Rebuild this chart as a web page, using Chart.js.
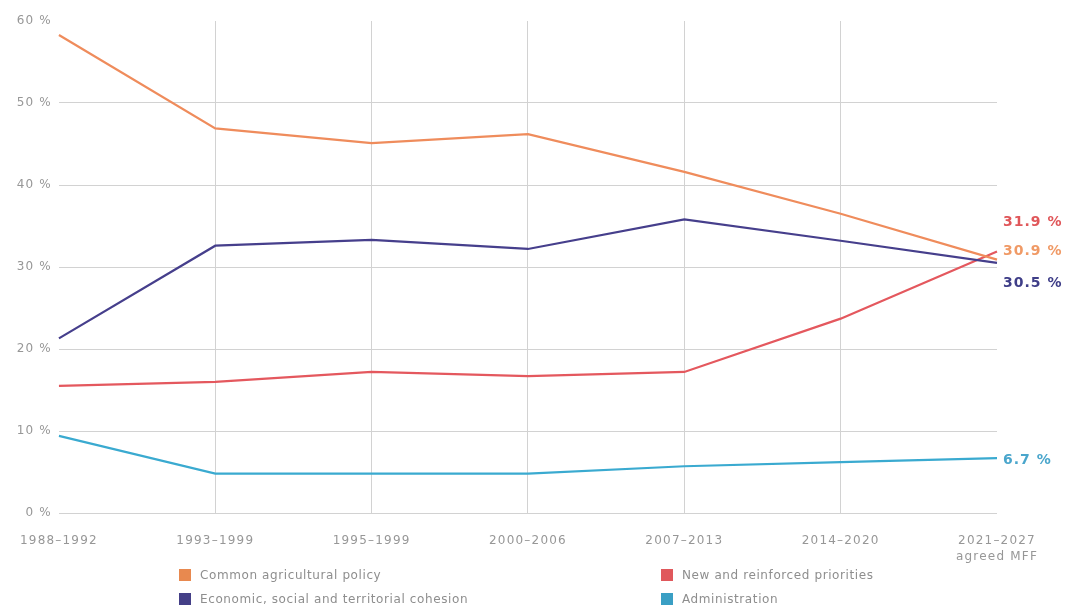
<!DOCTYPE html>
<html>
<head>
<meta charset="utf-8">
<script src="https://cdn.jsdelivr.net/npm/chart.js@4"></script>
<style>
  html, body { margin: 0; padding: 0; background: #fff; }
  #wrap { position: relative; width: 1068px; height: 610px; }
  canvas { position: absolute; left: 0; top: 0; }
  .leg { position: absolute; font-family: "DejaVu Sans", sans-serif; font-size: 12px; color: #8e8e8e; white-space: nowrap; line-height: 14px; letter-spacing: 0.6px; }
  .leg span.sw { position: absolute; left: -21px; top: 1px; width: 12px; height: 12px; }
</style>
</head>
<body>
<div id="wrap">
  <canvas id="c" width="1068" height="610"></canvas>
  <div class="leg" style="left:200px; top:568px;"><span class="sw" style="background:#e8894f"></span>Common agricultural policy</div>
  <div class="leg" style="left:200px; top:592px;"><span class="sw" style="background:#443f87"></span>Economic, social and territorial cohesion</div>
  <div class="leg" style="left:682px; top:568px;"><span class="sw" style="background:#e0585c"></span>New and reinforced priorities</div>
  <div class="leg" style="left:682px; top:592px;"><span class="sw" style="background:#3a9fc4"></span>Administration</div>
</div>
<script>
const categories = ['1988–1992', '1993–1999', '1995–1999', '2000–2006', '2007–2013', '2014–2020', ['2021–2027', 'agreed MFF']];
const capValues = [58.3, 46.9, 45.1, 46.2, 41.6, 36.5, 30.9];
const cohesionValues = [21.3, 32.6, 33.3, 32.2, 35.8, 33.2, 30.5];
const priorityValues = [15.5, 16.0, 17.2, 16.7, 17.2, 23.7, 31.9];
const adminValues = [9.4, 4.8, 4.8, 4.8, 5.7, 6.2, 6.7];
const yTicks = [0, 10, 20, 30, 40, 50, 60];
const endLabels = ['31.9 %', '30.9 %', '30.5 %', '6.7 %'];

const spacingPlugin = {
  id: 'spacing',
  beforeUpdate(chart) { chart.ctx.letterSpacing = '1.2px'; },
  beforeDraw(chart) { chart.ctx.letterSpacing = '1.2px'; }
};

const endLabelPlugin = {
  id: 'endLabels',
  afterDatasetsDraw(chart) {
    const ctx = chart.ctx;
    const y = chart.scales.y;
    const specs = [
      { text: endLabels[0], val: priorityValues[6], dy: -29, color: '#e0575a' },
      { text: endLabels[1], val: capValues[6], dy: -8, color: '#f09a66' },
      { text: endLabels[2], val: cohesionValues[6], dy: 20, color: '#3f3e88' },
      { text: endLabels[3], val: adminValues[6], dy: 2, color: '#4aa6cc' }
    ];
    ctx.save();
    ctx.letterSpacing = '1px';
    ctx.font = 'bold 14px "DejaVu Sans", sans-serif';
    ctx.textBaseline = 'middle';
    ctx.textAlign = 'left';
    specs.forEach(s => {
      ctx.fillStyle = s.color;
      ctx.fillText(s.text, chart.chartArea.right + 6, y.getPixelForValue(s.val) + s.dy);
    });
    ctx.restore();
  }
};

const mk = (label, data, color) => ({
  label, data, borderColor: color, backgroundColor: color,
  borderWidth: 2.2, pointRadius: 0, tension: 0, fill: false
});

new Chart(document.getElementById('c'), {
  type: 'line',
  data: {
    labels: categories,
    datasets: [
      mk('Common agricultural policy', capValues, '#ef8c5c'),
      mk('Economic, social and territorial cohesion', cohesionValues, '#463f8c'),
      mk('New and reinforced priorities', priorityValues, '#e4585e'),
      mk('Administration', adminValues, '#3aaad0')
    ]
  },
  options: {
    responsive: false,
    animation: false,
    layout: { padding: { left: 0, right: 71, top: 21, bottom: 47 } },
    plugins: { legend: { display: false }, tooltip: { enabled: false } },
    scales: {
      x: {
        offset: false,
        afterFit: s => { s.height = 50; },
        border: { display: false },
        grid: {
          drawTicks: false,
          color: c => (c.index === 0 || c.index === categories.length - 1) ? 'rgba(0,0,0,0)' : '#d2d2d2',
          lineWidth: 1
        },
        ticks: {
          autoSkip: false, maxRotation: 0, padding: 20, color: '#979797',
          font: { family: '"DejaVu Sans", sans-serif', size: 12, lineHeight: 1.35 }
        }
      },
      y: {
        min: 0, max: 60,
        afterFit: s => { s.width = 58; },
        afterBuildTicks: s => { s.ticks = yTicks.map(v => ({ value: v })); },
        border: { display: false },
        grid: {
          drawTicks: false,
          color: c => (c.tick && c.tick.value === 60) ? 'rgba(0,0,0,0)' : '#d2d2d2',
          lineWidth: 1
        },
        ticks: {
          padding: 7, color: '#979797',
          font: { family: '"DejaVu Sans", sans-serif', size: 12 },
          callback: v => v + ' %'
        }
      }
    }
  },
  plugins: [spacingPlugin, endLabelPlugin]
});
</script>
</body>
</html>
